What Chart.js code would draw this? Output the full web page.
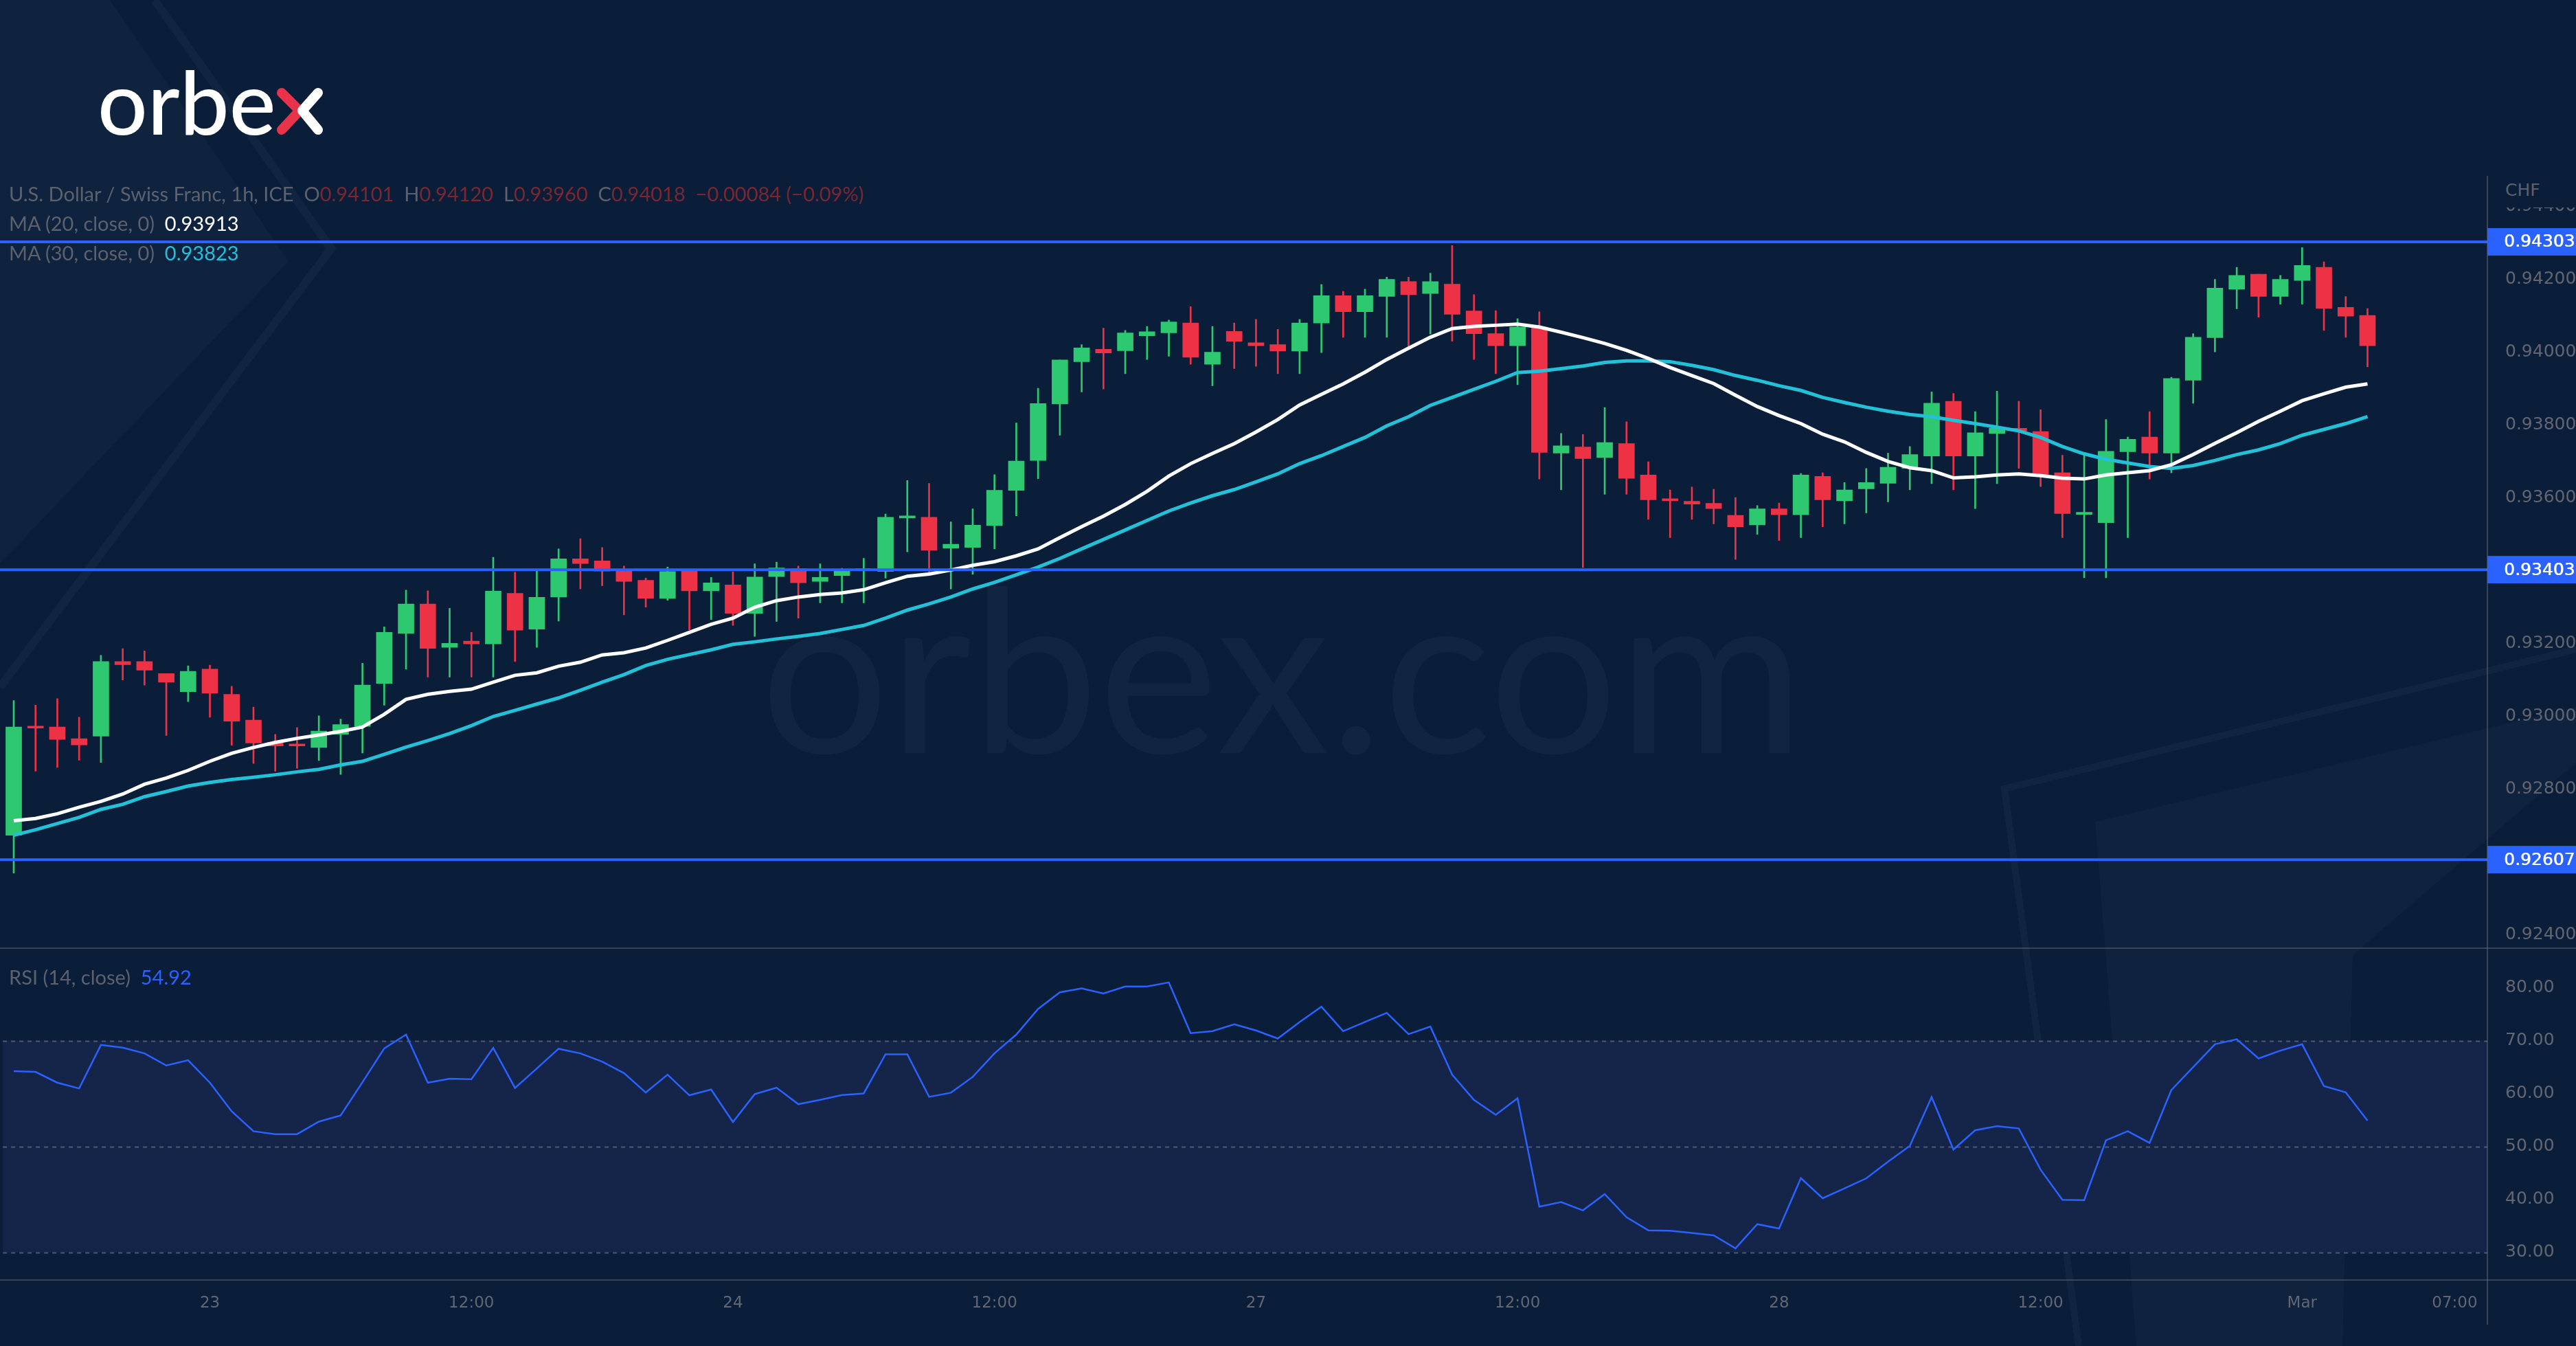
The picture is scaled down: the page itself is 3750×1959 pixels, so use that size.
<!DOCTYPE html>
<html>
<head>
<meta charset="utf-8">
<script src="https://cdn.jsdelivr.net/npm/chart.js@4.4.1/dist/chart.umd.min.js"></script>
<style>
  html, body { margin: 0; padding: 0; background: #0a1e3a; }
  #wrap { position: relative; width: 3750px; height: 1959px; overflow: hidden; }
  #c { position: absolute; left: 0; top: 0; }
  .txt { position: absolute; font-family: Lato, 'Noto Sans', sans-serif; font-size: 29px; color: #5d616d; line-height: 43px; }
  .ln { white-space: pre; }
  .dn { color: #7a2730; }
  #chf { position: absolute; left: 3623px; top: 252px; width: 127px; height: 50px; background: #0a1e3a;
         font: 25px 'DejaVu Sans', sans-serif; color: #5d616d; line-height: 50px; padding-left: 24px; box-sizing: border-box; }
</style>
</head>
<body>
<div id="wrap">
<canvas id="c" width="3750" height="1959"></canvas>
<div class="txt" style="left:13px;top:260px"><div class="ln">U.S. Dollar / Swiss Franc, 1h, ICE  O<span class="dn">0.94101</span>  H<span class="dn">0.94120</span>  L<span class="dn">0.93960</span>  C<span class="dn">0.94018</span>  <span class="dn">−0.00084 (−0.09%)</span></div><div class="ln">MA (20, close, 0)  <span style="color:#ffffff">0.93913</span></div><div class="ln">MA (30, close, 0)  <span style="color:#22c1d8">0.93823</span></div></div>
<div class="txt ln" style="left:13px;top:1400px">RSI (14, close)  <span style="color:#2962ff">54.92</span></div>
<div id="chf">CHF</div>
</div>
<script>
// HOURLY CANDLES, USD/CHF, 22 FEB 15:00 -> 1 MAR 03:00
var sessions = [['Feb 22', 15, 23], ['Feb 23', 0, 23], ['Feb 24', 0, 23], ['Feb 27', 0, 23], ['Feb 28', 0, 23], ['Mar 1', 0, 8]];
var categories = [];
sessions.forEach(function (s) {
  for (var h = s[1]; h <= s[2]; h++) categories.push(s[0] + ' ' + (h < 10 ? '0' : '') + h + ':00');
});

var opens = [0.92674,0.92972,0.92971,0.92939,0.92946,0.93151,0.93151,0.93118,0.93068,0.93130,
  0.93061,0.92990,0.92929,0.92924,0.92915,0.92951,0.92973,0.93091,0.93228,0.93309,
  0.93190,0.93207,0.93199,0.93338,0.93240,0.93328,0.93433,0.93427,0.93404,0.93374,
  0.93324,0.93400,0.93345,0.93361,0.93283,0.93384,0.93406,0.93371,0.93387,0.93400,
  0.93398,0.93545,0.93547,0.93462,0.93464,0.93524,0.93621,0.93703,0.93858,0.93974,
  0.94008,0.94004,0.94045,0.94053,0.94080,0.93967,0.94057,0.94026,0.94021,0.94003,
  0.94080,0.94155,0.94111,0.94153,0.94194,0.94161,0.94187,0.94113,0.94051,0.94018,
  0.94069,0.93723,0.93740,0.93711,0.93749,0.93663,0.93598,0.93591,0.93585,0.93552,
  0.93526,0.93570,0.93554,0.93659,0.93592,0.93625,0.93640,0.93681,0.93715,0.93865,
  0.93715,0.93777,0.93791,0.93782,0.93669,0.93555,0.93532,0.93727,0.93767,0.93723,
  0.93923,0.94040,0.94173,0.94214,0.94153,0.94197,0.94233,0.94123,0.94101];
var highs = [0.93044,0.93031,0.93049,0.92998,0.93168,0.93186,0.93180,0.93118,0.93139,0.93141,
  0.93083,0.93026,0.92951,0.92970,0.93002,0.92993,0.93146,0.93246,0.93347,0.93345,
  0.93297,0.93231,0.93437,0.93396,0.93404,0.93460,0.93488,0.93464,0.93413,0.93380,
  0.93410,0.93400,0.93382,0.93397,0.93419,0.93424,0.93413,0.93419,0.93407,0.93434,
  0.93556,0.93648,0.93640,0.93534,0.93570,0.93664,0.93806,0.93901,0.93979,0.94021,
  0.94066,0.94060,0.94071,0.94088,0.94125,0.94071,0.94080,0.94090,0.94063,0.94090,
  0.94186,0.94167,0.94173,0.94206,0.94206,0.94217,0.94293,0.94158,0.94114,0.94092,
  0.94111,0.93777,0.93774,0.93848,0.93809,0.93699,0.93622,0.93630,0.93624,0.93601,
  0.93579,0.93586,0.93667,0.93669,0.93642,0.93681,0.93723,0.93741,0.93891,0.93887,
  0.93837,0.93893,0.93865,0.93842,0.93717,0.93725,0.93815,0.93767,0.93837,0.93931,
  0.94051,0.94200,0.94233,0.94214,0.94211,0.94287,0.94248,0.94153,0.94120];
var lows = [0.92570,0.92850,0.92860,0.92880,0.92874,0.93100,0.93086,0.92948,0.93041,0.92998,
  0.92921,0.92871,0.92850,0.92858,0.92879,0.92841,0.92900,0.93031,0.93130,0.93108,
  0.93108,0.93108,0.93108,0.93151,0.93190,0.93262,0.93350,0.93359,0.93279,0.93300,
  0.93319,0.93238,0.93266,0.93250,0.93220,0.93261,0.93270,0.93312,0.93312,0.93312,
  0.93380,0.93452,0.93389,0.93350,0.93390,0.93460,0.93551,0.93653,0.93772,0.93891,
  0.93899,0.93941,0.93980,0.93989,0.93967,0.93908,0.93955,0.93961,0.93941,0.93941,
  0.93999,0.94041,0.94041,0.94041,0.94008,0.94050,0.94030,0.93980,0.93941,0.93911,
  0.93652,0.93622,0.93409,0.93610,0.93610,0.93541,0.93491,0.93541,0.93529,0.93431,
  0.93500,0.93483,0.93491,0.93521,0.93529,0.93559,0.93589,0.93622,0.93639,0.93622,
  0.93571,0.93639,0.93681,0.93631,0.93491,0.93381,0.93381,0.93491,0.93652,0.93669,
  0.93860,0.94001,0.94119,0.94096,0.94132,0.94132,0.94060,0.94041,0.93960];
var closes = [0.92971,0.92968,0.92937,0.92922,0.93151,0.93142,0.93127,0.93094,0.93124,0.93064,
  0.92987,0.92927,0.92919,0.92919,0.92960,0.92978,0.93086,0.93231,0.93309,0.93187,
  0.93201,0.93199,0.93344,0.93237,0.93327,0.93433,0.93420,0.93399,0.93371,0.93324,
  0.93398,0.93345,0.93367,0.93283,0.93383,0.93408,0.93367,0.93382,0.93400,0.93403,
  0.93547,0.93550,0.93456,0.93473,0.93525,0.93621,0.93701,0.93859,0.93979,0.94012,
  0.93998,0.94053,0.94056,0.94083,0.93986,0.94000,0.94030,0.94018,0.94003,0.94080,
  0.94155,0.94111,0.94155,0.94200,0.94158,0.94194,0.94104,0.94051,0.94018,0.94069,
  0.93725,0.93743,0.93708,0.93752,0.93654,0.93595,0.93592,0.93583,0.93571,0.93521,
  0.93570,0.93554,0.93663,0.93595,0.93622,0.93642,0.93684,0.93719,0.93860,0.93715,
  0.93779,0.93791,0.93784,0.93664,0.93557,0.93556,0.93728,0.93761,0.93723,0.93928,
  0.94041,0.94176,0.94211,0.94153,0.94200,0.94238,0.94120,0.94099,0.94018];

// MOVING AVERAGES
var ma20 = [0.92714,0.92720,0.92733,0.92751,0.92767,0.92787,0.92814,0.92831,0.92852,0.92877,
  0.92899,0.92915,0.92929,0.92940,0.92949,0.92959,0.92971,0.93006,0.93047,0.93061,
  0.93069,0.93075,0.93094,0.93113,0.93120,0.93138,0.93149,0.93169,0.93175,0.93188,
  0.93209,0.93231,0.93253,0.93270,0.93300,0.93318,0.93328,0.93335,0.93339,0.93348,
  0.93367,0.93385,0.93391,0.93402,0.93415,0.93425,0.93441,0.93460,0.93491,0.93521,
  0.93550,0.93582,0.93618,0.93660,0.93694,0.93722,0.93749,0.93781,0.93815,0.93855,
  0.93884,0.93913,0.93945,0.93980,0.94011,0.94041,0.94065,0.94071,0.94074,0.94077,
  0.94069,0.94055,0.94040,0.94024,0.94005,0.93983,0.93958,0.93936,0.93914,0.93882,
  0.93851,0.93826,0.93804,0.93775,0.93754,0.93725,0.93700,0.93683,0.93675,0.93655,
  0.93658,0.93663,0.93666,0.93661,0.93654,0.93652,0.93663,0.93669,0.93675,0.93691,
  0.93719,0.93750,0.93779,0.93810,0.93838,0.93867,0.93886,0.93904,0.93913];
var ma30 = [0.92674,0.92689,0.92706,0.92723,0.92745,0.92759,0.92780,0.92794,0.92809,0.92819,
  0.92827,0.92833,0.92840,0.92848,0.92855,0.92867,0.92877,0.92896,0.92916,0.92934,
  0.92953,0.92975,0.93000,0.93017,0.93034,0.93051,0.93072,0.93094,0.93115,0.93140,
  0.93157,0.93170,0.93183,0.93198,0.93205,0.93213,0.93220,0.93228,0.93239,0.93250,
  0.93270,0.93292,0.93309,0.93328,0.93350,0.93368,0.93389,0.93410,0.93434,0.93460,
  0.93486,0.93512,0.93538,0.93564,0.93586,0.93606,0.93623,0.93644,0.93666,0.93694,
  0.93716,0.93741,0.93766,0.93798,0.93823,0.93854,0.93876,0.93898,0.93920,0.93944,
  0.93948,0.93955,0.93962,0.93972,0.93976,0.93976,0.93974,0.93964,0.93952,0.93936,
  0.93923,0.93908,0.93895,0.93876,0.93862,0.93849,0.93838,0.93829,0.93823,0.93813,
  0.93804,0.93794,0.93784,0.93766,0.93741,0.93721,0.93706,0.93696,0.93686,0.93681,
  0.93689,0.93703,0.93719,0.93732,0.93749,0.93772,0.93788,0.93804,0.93823];

// RSI (14)
var rsi = [64.25,64.12,62.09,61.00,69.22,68.70,67.62,65.33,66.32,62.09,
  56.68,52.92,52.36,52.36,54.73,55.90,62.17,68.57,71.17,62.09,
  62.82,62.74,68.66,61.09,64.77,68.49,67.62,66.06,63.90,60.23,
  63.60,59.71,60.79,54.65,59.92,61.14,58.02,58.84,59.75,60.05,
  67.45,67.45,59.41,60.19,63.17,67.62,71.17,76.01,79.17,79.90,
  78.95,80.25,80.25,81.03,71.43,71.82,73.11,71.95,70.43,73.55,
  76.44,71.82,73.55,75.28,71.25,72.68,63.60,58.85,56.03,59.15,
  38.65,39.52,37.96,41.03,36.66,34.19,34.11,33.68,33.24,30.78,
  35.36,34.54,44.05,40.25,42.11,44.01,47.17,50.15,59.36,49.46,
  53.10,53.87,53.44,45.65,39.95,39.90,51.19,52.92,50.71,60.70,
  65.03,69.35,70.30,66.67,68.14,69.35,61.44,60.27,54.92];

// NIVEIS HORIZONTAIS DESENHADOS
var levels = [0.94303, 0.93403, 0.92607];
var rsiBands = [70, 50, 30];

var BG = '#0a1e3a';
var upColor = '#2dc86f';
var downColor = '#ee3246';
var candleColors = closes.map(function (c, i) { return c >= opens[i] ? upColor : downColor; });

function poly(ctx, pts) {
  ctx.beginPath();
  ctx.moveTo(pts[0][0], pts[0][1]);
  for (var i = 1; i < pts.length; i++) ctx.lineTo(pts[i][0], pts[i][1]);
}

var decor = {
  id: 'decor',
  beforeDraw: function (chart) {
    var ctx = chart.ctx;
    ctx.save();
    ctx.fillStyle = BG;
    ctx.fillRect(0, 0, chart.width, chart.height);

    // faixas diagonais do fundo
    ctx.fillStyle = 'rgba(255,255,255,0.025)';
    poly(ctx, [[0, 0], [160, 0], [420, 380], [0, 820]]); ctx.fill();
    ctx.strokeStyle = 'rgba(255,255,255,0.035)';
    ctx.lineWidth = 12;
    poly(ctx, [[225, 0], [482, 362], [0, 1000]]); ctx.stroke();
    ctx.fillStyle = 'rgba(255,255,255,0.025)';
    poly(ctx, [[3050, 1196], [3750, 1029], [3750, 1110], [3425, 1390], [3410, 1959], [3110, 1959]]); ctx.fill();
    ctx.lineWidth = 10;
    poly(ctx, [[3750, 945], [2918, 1148], [3026, 1959]]); ctx.stroke();

    // marca d'agua
    ctx.fillStyle = 'rgba(255,255,255,0.035)';
    ctx.font = '330px Lato';
    ctx.textBaseline = 'alphabetic';
    ctx.fillText('orbex.com', 1107, 1096);

    // faixa do RSI
    var yr = chart.scales.yr;
    var a = chart.chartArea;
    var y70 = yr.getPixelForValue(70), y30 = yr.getPixelForValue(30);
    ctx.fillStyle = '#15254a';
    ctx.fillRect(a.left, y70, a.right - a.left, y30 - y70);
    ctx.strokeStyle = 'rgba(130,135,150,0.55)';
    ctx.lineWidth = 2;
    ctx.setLineDash([6, 6]);
    rsiBands.forEach(function (v) {
      var y = Math.round(yr.getPixelForValue(v)) + 0.5;
      ctx.beginPath(); ctx.moveTo(a.left, y); ctx.lineTo(a.right, y); ctx.stroke();
    });
    ctx.restore();
  },
  afterDatasetsDraw: function (chart) {
    var ctx = chart.ctx, y = chart.scales.y, a = chart.chartArea;
    ctx.save();
    ctx.strokeStyle = '#2962ff';
    ctx.lineWidth = 4;
    levels.forEach(function (v) {
      var py = y.getPixelForValue(v);
      ctx.beginPath(); ctx.moveTo(0, py); ctx.lineTo(a.right, py); ctx.stroke();
    });
    ctx.restore();
  },
  afterDraw: function (chart) {
    var ctx = chart.ctx, y = chart.scales.y, a = chart.chartArea;
    ctx.save();
    // separadores e linha do eixo
    ctx.strokeStyle = 'rgba(120,123,134,0.4)';
    ctx.lineWidth = 2;
    ctx.beginPath(); ctx.moveTo(0, 1380); ctx.lineTo(chart.width, 1380); ctx.stroke();
    ctx.beginPath(); ctx.moveTo(0, a.bottom); ctx.lineTo(chart.width, a.bottom); ctx.stroke();
    ctx.beginPath(); ctx.moveTo(a.right, 256); ctx.lineTo(a.right, 1928); ctx.stroke();

    // etiquetas dos niveis
    ctx.font = '25px "DejaVu Sans"';
    ctx.textBaseline = 'middle';
    levels.forEach(function (v) {
      var py = y.getPixelForValue(v);
      ctx.fillStyle = '#2962ff';
      ctx.fillRect(a.right, py - 20, chart.width - a.right, 40);
      ctx.fillStyle = '#ffffff';
      ctx.fillText(v.toFixed(5), a.right + 24, py + 1);
      ctx.fillText(v.toFixed(5), a.right + 24.6, py + 1);
    });

    // logo
    ctx.fillStyle = '#ffffff';
    ctx.font = '500 128px Lato';
    ctx.textBaseline = 'alphabetic';
    ctx.fillText('orbe', 142, 196);
    ctx.lineWidth = 14;
    ctx.lineCap = 'round';
    ctx.lineJoin = 'round';
    ctx.strokeStyle = '#e8334a';
    poly(ctx, [[410, 135], [436, 161], [410, 189]]); ctx.stroke();
    ctx.strokeStyle = '#ffffff';
    poly(ctx, [[463, 135], [440, 161], [463, 189]]); ctx.stroke();
    ctx.restore();
  }
};

var axisFont = { family: 'DejaVu Sans', size: 25 };
var tickColor = '#636670';

var ctx = document.getElementById('c').getContext('2d');
new Chart(ctx, {
  type: 'bar',
  data: {
    labels: categories,
    datasets: [
      { type: 'line', label: 'MA 20', data: ma20, borderColor: '#ffffff', borderWidth: 5, pointRadius: 0, yAxisID: 'y', order: 0 },
      { type: 'line', label: 'MA 30', data: ma30, borderColor: '#22c1d8', borderWidth: 5, pointRadius: 0, yAxisID: 'y', order: 0 },
      { type: 'line', label: 'RSI', data: rsi, borderColor: '#2962ff', borderWidth: 2.5, pointRadius: 0, yAxisID: 'yr', order: 0 },
      { label: 'body', data: opens.map(function (o, i) { return [o, closes[i]]; }), backgroundColor: candleColors,
        barThickness: 23, minBarLength: 3, grouped: false, yAxisID: 'y', order: 1 },
      { label: 'wick', data: lows.map(function (l, i) { return [l, highs[i]]; }), backgroundColor: candleColors,
        barThickness: 2, grouped: false, yAxisID: 'y', order: 2 }
    ]
  },
  options: {
    responsive: false,
    animation: false,
    devicePixelRatio: 1,
    layout: { padding: { top: 256, left: 0, right: 0, bottom: 0 } },
    plugins: { legend: { display: false }, tooltip: { enabled: false } },
    scales: {
      x: {
        type: 'category',
        offset: true,
        grid: { display: false, drawTicks: false },
        border: { display: false },
        ticks: {
          autoSkip: false, maxRotation: 0, minRotation: 0, padding: 20,
          color: tickColor, font: { family: 'DejaVu Sans', size: 23 },
          callback: function (v, i) {
            var lab = categories[i];
            var p = lab.split(' ');
            if (p[2] === '00:00') return p[0] === 'Mar' ? 'Mar' : p[1];
            if (p[2] === '12:00') return '12:00';
            if (lab === 'Mar 1 07:00') return '07:00';
            return '';
          }
        },
        afterFit: function (s) { s.height = 96; }
      },
      y: {
        position: 'right', stack: 'pane', stackWeight: 1124,
        min: 0.92364, max: 0.94484,
        grid: { display: false, drawTicks: false },
        border: { display: false },
        ticks: { stepSize: 0.002, includeBounds: false, maxTicksLimit: 30, padding: 26, color: tickColor, font: axisFont,
          callback: function (v) { return v.toFixed(5); } },
        afterFit: function (s) { s.width = 129; }
      },
      yr: {
        position: 'right', stack: 'pane', stackWeight: 483,
        min: 24.8, max: 87.5,
        grid: { display: false, drawTicks: false },
        border: { display: false },
        ticks: { stepSize: 10, includeBounds: false, maxTicksLimit: 30, padding: 26, color: tickColor, font: axisFont,
          callback: function (v) { return v.toFixed(2); } },
        afterFit: function (s) { s.width = 129; }
      }
    }
  },
  plugins: [decor]
});
</script>
</body>
</html>
